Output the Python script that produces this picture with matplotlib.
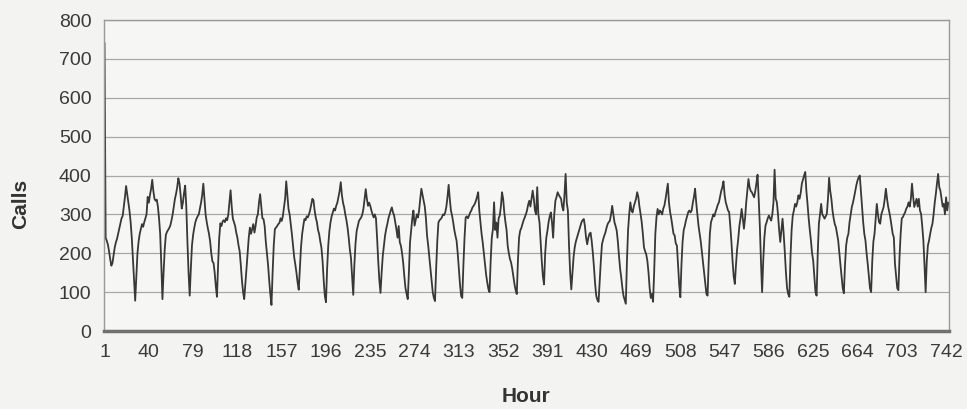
import numpy as np
import matplotlib.pyplot as plt

# hourly calls.
# day01 runs from hour 1; every later list starts at that day's early-morning low
day01 = [740, 240, 232, 222, 205, 185, 168, 175, 195, 215, 228, 237, 250, 262, 275, 290, 296, 320, 345, 373, 352, 330, 309, 280, 240, 185, 130]
day02 = [78, 140, 200, 230, 250, 262, 275, 268, 280, 290, 300, 345, 330, 350, 365, 389, 360, 340, 335, 338, 320, 290, 250, 170]
day03 = [82, 150, 210, 247, 255, 260, 265, 272, 285, 300, 320, 340, 353, 370, 393, 380, 350, 315, 330, 355, 374, 320, 230, 150]
day04 = [91, 160, 220, 247, 265, 280, 289, 295, 300, 315, 330, 350, 379, 340, 300, 280, 264, 250, 230, 200, 179, 175, 150, 115]
day05 = [88, 170, 240, 277, 270, 282, 285, 280, 290, 285, 300, 330, 362, 320, 289, 280, 270, 253, 240, 220, 205, 170, 130, 100]
day06 = [82, 120, 160, 200, 240, 266, 250, 262, 275, 253, 270, 292, 300, 330, 352, 320, 290, 288, 270, 230, 200, 170, 130, 95]
day07 = [67, 150, 220, 262, 266, 270, 275, 278, 290, 283, 295, 318, 340, 385, 350, 314, 300, 275, 249, 220, 190, 171, 150, 125]
day08 = [106, 160, 215, 249, 270, 288, 285, 295, 292, 300, 310, 325, 340, 336, 310, 292, 280, 260, 249, 230, 214, 180, 130, 90]
day09 = [74, 160, 220, 257, 280, 295, 305, 315, 310, 322, 330, 345, 360, 383, 350, 330, 318, 300, 285, 266, 240, 210, 188, 140]
day10 = [93, 170, 225, 257, 270, 283, 288, 292, 300, 315, 340, 365, 340, 322, 330, 322, 310, 300, 292, 300, 290, 240, 180, 130]
day11 = [98, 150, 193, 220, 245, 262, 275, 290, 300, 310, 318, 305, 297, 280, 262, 240, 270, 228, 219, 200, 175, 140, 110, 95]
day12 = [82, 150, 228, 260, 290, 310, 271, 285, 300, 292, 310, 340, 366, 350, 335, 320, 290, 245, 220, 190, 159, 130, 100, 85]
day13 = [77, 160, 230, 279, 285, 288, 292, 300, 298, 305, 320, 345, 376, 340, 310, 297, 280, 260, 245, 232, 200, 160, 120, 90]
day14 = [85, 170, 240, 292, 295, 290, 297, 305, 310, 318, 322, 327, 335, 345, 357, 310, 279, 250, 228, 200, 170, 145, 125, 108]
day15 = [100, 180, 240, 262, 331, 260, 279, 240, 290, 297, 320, 357, 340, 305, 280, 260, 219, 200, 185, 176, 160, 140, 120, 105]
day16 = [95, 180, 240, 258, 265, 275, 285, 292, 300, 310, 325, 335, 320, 340, 361, 340, 310, 300, 370, 300, 279, 230, 180, 140]
day17 = [120, 200, 240, 258, 280, 295, 305, 280, 240, 300, 335, 345, 357, 350, 345, 340, 320, 310, 350, 404, 330, 310, 220, 150]
day18 = [107, 150, 190, 215, 230, 240, 249, 260, 270, 280, 285, 288, 270, 240, 223, 240, 250, 253, 230, 200, 163, 120, 90, 80]
day19 = [75, 130, 180, 223, 235, 245, 253, 265, 275, 280, 284, 300, 322, 300, 280, 270, 258, 230, 193, 160, 137, 110, 90, 80]
day20 = [70, 180, 260, 301, 331, 310, 305, 320, 330, 340, 357, 345, 320, 301, 280, 250, 215, 205, 197, 180, 150, 110, 85, 95]
day21 = [75, 154, 250, 292, 314, 300, 310, 306, 300, 315, 323, 340, 360, 379, 330, 306, 290, 270, 250, 246, 225, 220, 170, 120]
day22 = [87, 170, 230, 260, 271, 285, 295, 306, 310, 305, 310, 330, 345, 366, 330, 300, 271, 250, 230, 203, 177, 150, 120, 95]
day23 = [91, 180, 250, 280, 289, 300, 295, 306, 315, 325, 331, 345, 360, 370, 385, 350, 331, 320, 310, 306, 270, 229, 180, 140]
day24 = [121, 170, 210, 237, 270, 290, 314, 290, 263, 290, 330, 360, 391, 370, 360, 357, 350, 344, 360, 380, 402, 340, 271, 180]
day25 = [100, 180, 240, 271, 280, 290, 297, 290, 284, 300, 330, 415, 340, 331, 300, 260, 229, 260, 289, 250, 203, 150, 110, 95]
day26 = [88, 190, 260, 297, 310, 327, 320, 331, 349, 340, 355, 379, 390, 400, 409, 360, 327, 290, 260, 233, 200, 181, 140, 100]
day27 = [91, 200, 276, 300, 327, 300, 295, 289, 295, 301, 340, 394, 360, 340, 310, 290, 275, 267, 250, 233, 200, 170, 140, 110]
day28 = [97, 170, 220, 240, 250, 280, 300, 319, 330, 344, 360, 375, 387, 395, 400, 360, 319, 280, 250, 233, 200, 173, 140, 110]
day29 = [100, 180, 230, 250, 290, 327, 300, 280, 276, 300, 310, 319, 340, 366, 340, 320, 306, 290, 270, 250, 241, 173, 140, 110]
day30 = [105, 190, 250, 290, 293, 300, 306, 315, 320, 331, 320, 340, 379, 345, 319, 330, 340, 320, 340, 310, 301, 270, 233, 170]
day31 = [100, 180, 220, 233, 250, 265, 276, 300, 330, 353, 380, 404, 370, 361, 340, 320, 327, 300, 344, 310, 330]

y_ticks = [0, 100, 200, 300, 400, 500, 600, 700, 800]
x_tick_hours = list(range(1, 745, 39))   # 1, 40, 79 ... 742

plt.rcParams['font.family'] = ['Liberation Sans', 'DejaVu Sans']


def plot():
    calls = np.array(day01 + day02 + day03 + day04 + day05 + day06 + day07 + day08
                     + day09 + day10 + day11 + day12 + day13 + day14 + day15 + day16
                     + day17 + day18 + day19 + day20 + day21 + day22 + day23 + day24
                     + day25 + day26 + day27 + day28 + day29 + day30 + day31)
    hours = np.arange(1, len(calls) + 1)

    fig = plt.figure(figsize=(9.67, 4.09), dpi=100)
    fig.patch.set_facecolor('#f3f3f1')
    ax = fig.add_axes([0.1075, 0.1907, 0.8738, 0.7604])
    ax.set_facecolor('#f6f6f4')

    ax.plot(hours, calls, color='#383838', lw=1.3)

    ax.set_xlim(0.5, 744.5)
    ax.set_ylim(0, 800)
    ax.set_yticks(y_ticks)
    ax.set_xticks(x_tick_hours)
    ax.grid(axis='y', color='#a8a8a8', lw=0.9)
    ax.set_axisbelow(True)
    ax.tick_params(length=0, labelsize=14, colors='#3a3a3a')
    ax.tick_params(axis='y', pad=9)
    ax.tick_params(axis='x', pad=9)

    for side in ['top', 'right', 'left']:
        ax.spines[side].set_color('#9a9a9a')
        ax.spines[side].set_linewidth(1.0)
    ax.spines['bottom'].set_color('#707070')
    ax.spines['bottom'].set_linewidth(2.5)

    ax.set_xlabel('Hour', fontsize=15, fontweight='bold', color='#333333')
    ax.set_ylabel('Calls', fontsize=15, fontweight='bold', color='#333333')
    ax.xaxis.set_label_coords(0.5, -0.21)
    ax.xaxis.label.set_va('center')
    ax.yaxis.set_label_coords(-0.099, 0.41)
    ax.yaxis.label.set_va('center')

    fig.savefig('out.png', dpi=100, facecolor=fig.get_facecolor())


if __name__ == "__main__":
    plot()
